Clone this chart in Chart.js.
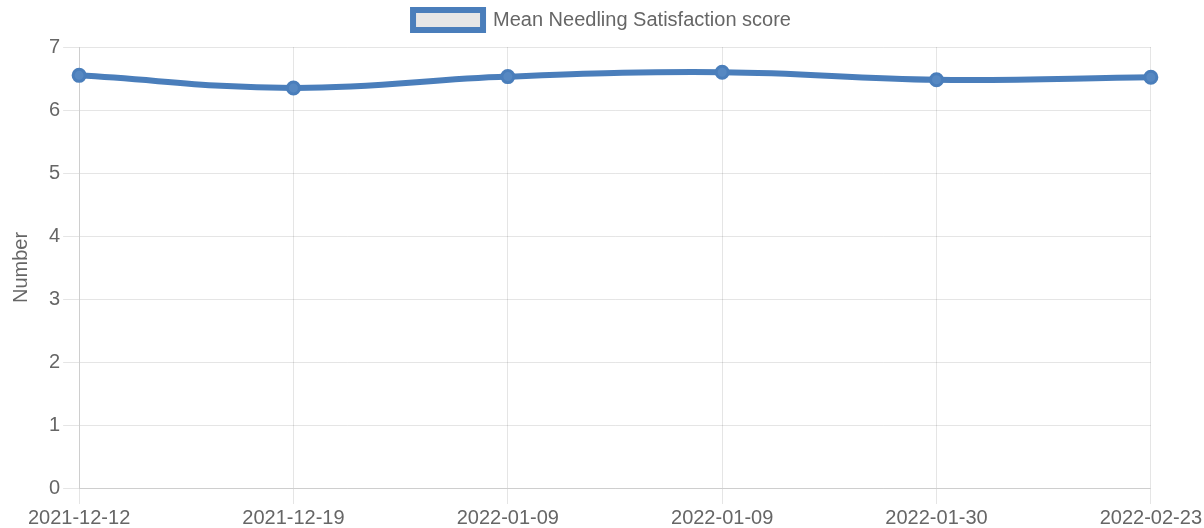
<!DOCTYPE html>
<html><head><meta charset="utf-8">
<script src="https://cdn.jsdelivr.net/npm/chart.js@4"></script>
<style>html,body{margin:0;padding:0;background:#fff}#w{width:1204px;height:528px}</style>
</head><body><div id="w"><canvas id="c"></canvas></div>
<script>
const categories = ["2021-12-12","2021-12-19","2022-01-09","2022-01-09","2022-01-30","2022-02-23"];
const meanScores = [6.55, 6.35, 6.53, 6.60, 6.48, 6.52];
const seriesName = "Mean Needling Satisfaction score";
const yTicks = [0,1,2,3,4,5,6,7];
Chart.defaults.font.family = "'Liberation Sans', Arial, sans-serif";
Chart.defaults.color = "#666";
const legendGap = { id: 'legendGap', beforeInit(chart) {
  const orig = chart.legend.fit;
  chart.legend.fit = function () { orig.call(this); this.height += 7; };
}};
new Chart(document.getElementById('c'), {
  type: 'line',
  data: { labels: categories, datasets: [{
    label: seriesName, data: meanScores,
    borderColor: '#4a7ebb', backgroundColor: '#e6e6e6',
    borderWidth: 6, pointRadius: 6, pointBorderWidth: 3,
    pointBackgroundColor: '#5688c2', tension: 0.4, fill: false
  }]},
  plugins: [legendGap],
  options: {
    responsive: true, maintainAspectRatio: false, animation: false,
    plugins: { legend: { labels: { font: { size: 20 }, boxWidth: 70 } }, tooltip:{enabled:false} },
    scales: {
      x: { grid: { tickLength: 16 }, ticks: { font: { size: 20 }, maxRotation: 0, padding: 2 },
           afterFit(s) { s.height -= 4; } },
      y: { min: 0, max: 7, grid: { tickLength: 16 }, ticks: { stepSize: 1, font: { size: 20 } },
           title: { display: true, text: 'Number', font: { size: 20 }, padding: { top: 9, bottom: 13 } } }
    }
  }
});
</script></body></html>
